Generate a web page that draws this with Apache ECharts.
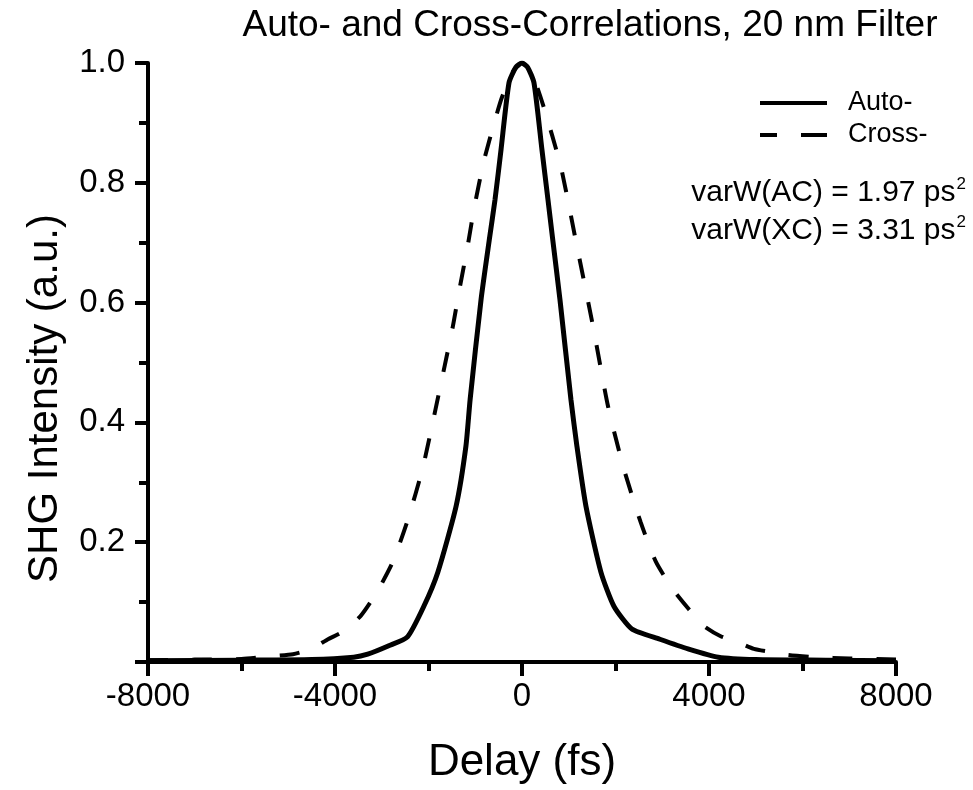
<!DOCTYPE html>
<html>
<head>
<meta charset="utf-8">
<script src="https://cdn.jsdelivr.net/npm/echarts@6/dist/echarts.min.js"></script>
<style>html,body{margin:0;padding:0;background:#fff;}#c{width:973px;height:790px;}</style>
</head>
<body>
<div id="c"></div>
<script>
// Auto-correlation (solid)
const autoDelay = [-8000,-6000,-4500,-3600,-3300,-2850,-2450,-2100,-1800,-1410,-1200,-1110,-876,-690,-577,-449,-278,-130,0,120,256,427,555,650,812,1047,1175,1368,1688,1966,2350,2950,3550,4200,5000,6500,8000];
const autoVal   = [0.002,0.003,0.004,0.008,0.013,0.027,0.042,0.093,0.15,0.26,0.36,0.438,0.605,0.71,0.772,0.855,0.967,0.993,1.0,0.993,0.967,0.855,0.772,0.71,0.605,0.438,0.36,0.26,0.15,0.093,0.055,0.038,0.022,0.008,0.004,0.003,0.002];
// Cross-correlation (dashed)
const crossDelay = [-8000,-7000,-6000,-5300,-4900,-4500,-4150,-3850,-3450,-3100,-2760,-2440,-2120,-1820,-1480,-1350,-1150,-1030,-810,-450,-200,0,200,450,830,1160,1520,1840,2180,2540,2860,3220,3570,3890,4250,4620,4960,5320,5680,6300,7000,8000];
const crossVal   = [0.003,0.004,0.005,0.01,0.013,0.022,0.038,0.05,0.077,0.117,0.168,0.238,0.325,0.433,0.56,0.617,0.70,0.755,0.838,0.938,0.985,1.0,0.985,0.93,0.827,0.70,0.56,0.427,0.322,0.233,0.168,0.122,0.088,0.06,0.043,0.033,0.022,0.017,0.012,0.008,0.006,0.004];
const seriesNames = ['Auto-','Cross-'];
const titleText = 'Auto- and Cross-Correlations, 20 nm Filter';
const notes = ['varW(AC) = 1.97 ps','varW(XC) = 3.31 ps'];

const FONT = '"Liberation Sans", Arial, sans-serif';
const chart = echarts.init(document.getElementById('c'));
chart.setOption({
  backgroundColor: '#fff',
  animation: false,
  title: {
    text: titleText, left: 590, top: 7, textAlign: 'center', padding: 0,
    textStyle: {fontFamily: FONT, fontSize: 37, fontWeight: 'normal', color: '#000'}
  },
  legend: {
    left: 760, top: 88, orient: 'vertical', padding: 0,
    itemWidth: 67, itemHeight: 4, itemGap: 2,
    textStyle: {fontFamily: FONT, fontSize: 27, color: '#000', lineHeight: 30, padding: [0,0,0,16]},
    data: [
      {name: seriesNames[0], icon: 'path://M0,0 L67,0 L67,4 L0,4 Z'},
      {name: seriesNames[1], icon: 'path://M0,0 L17,0 L17,4 L0,4 Z M41,0 L67,0 L67,4 L41,4 Z'}
    ],
    itemStyle: {color: '#000'}
  },
  grid: {left: 148, right: 77, top: 63, bottom: 124, containLabel: false},
  xAxis: {
    type: 'value', min: -8000, max: 8000, interval: 4000,
    name: 'Delay (fs)', nameLocation: 'middle', nameGap: 79,
    nameTextStyle: {fontFamily: FONT, fontSize: 44, color: '#000'},
    axisLine: {show: true, onZero: false, lineStyle: {color: '#000', width: 4}},
    axisTick: {show: true, inside: false, length: 14, lineStyle: {color: '#000', width: 4}},
    minorTick: {show: true, splitNumber: 2, length: 9, lineStyle: {color: '#000', width: 4}},
    axisLabel: {fontFamily: FONT, fontSize: 33, color: '#000', margin: 18, formatter: v => String(v)},
    splitLine: {show: false}
  },
  yAxis: {
    type: 'value', min: 0, max: 1, interval: 0.2,
    name: 'SHG Intensity (a.u.)', nameLocation: 'middle', nameGap: 82,
    nameTextStyle: {fontFamily: FONT, fontSize: 42, color: '#000', padding: [0, 72, 0, 0]},
    axisLine: {show: true, onZero: false, lineStyle: {color: '#000', width: 4}},
    axisTick: {show: true, inside: false, length: 13, lineStyle: {color: '#000', width: 4}},
    minorTick: {show: true, splitNumber: 2, length: 9, lineStyle: {color: '#000', width: 4}},
    axisLabel: {fontFamily: FONT, fontSize: 33, color: '#000', margin: 23,
      formatter: v => v === 0 ? '' : v.toFixed(1)},
    splitLine: {show: false}
  },
  graphic: notes.map((t, i) => ({
    type: 'text', x: 966, y: 193 + i * 38,
    style: {
      text: t + '{s|2}', fontFamily: FONT, fontSize: 30, fill: '#000',
      align: 'right', verticalAlign: 'middle', lineHeight: 34,
      rich: {s: {fontFamily: FONT, fontSize: 17, verticalAlign: 'top', lineHeight: 34, padding: [0,0,0,1]}}
    }
  })),
  series: [
    {
      name: seriesNames[0], type: 'line', showSymbol: false, symbol: 'none', smooth: 0.2,
      data: autoDelay.map((d, i) => [d, autoVal[i]]),
      lineStyle: {color: '#000', width: 5, type: 'solid'}, itemStyle: {color: '#000'}
    },
    {
      name: seriesNames[1], type: 'line', showSymbol: false, symbol: 'none', smooth: 0.2,
      data: crossDelay.map((d, i) => [d, crossVal[i]]),
      lineStyle: {color: '#000', width: 4, type: [20, 24]}, itemStyle: {color: '#000'}
    }
  ]
});
</script>
</body>
</html>
